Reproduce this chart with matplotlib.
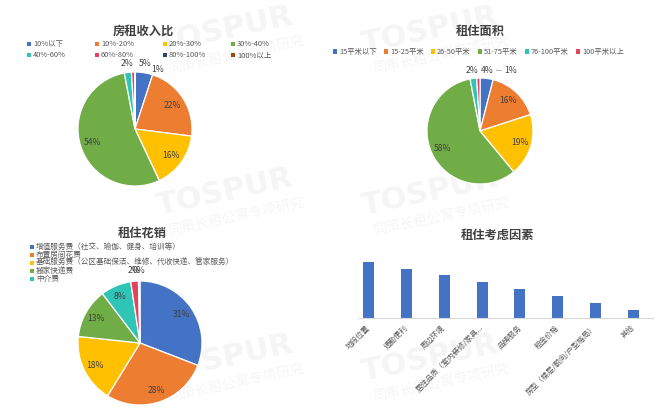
import matplotlib
matplotlib.use('Agg')
import matplotlib.pyplot as plt
import matplotlib.patches as mpatches
from matplotlib.patches import Rectangle
import numpy as np

plt.rcParams['font.family'] = ['Noto Sans CJK SC', 'DejaVu Sans']

# ---------------- data ----------------
ratio_labels = ['10%以下', '10%-20%', '20%-30%', '30%-40%',
                '40%-60%', '60%-80%', '80%-100%', '100%以上']
ratio_values = [5, 22, 16, 54, 2, 1, 0, 0]

area_labels = ['15平米以下', '15-25平米', '26-50平米', '51-75平米', '76-100平米', '100平米以上']
area_values = [4, 16, 19, 58, 2, 1]

spend_labels = ['增值服务费（社交、瑜伽、健身、培训等）', '布置房间花费',
                '基础服务费（公区基础保洁、维修、代收快递、管家服务）',
                '搬家快递费', '中介费', '其他', '其他费用']
spend_values = [31, 28, 18, 13, 8, 2, 0.4]
spend_legend_shown = 5

factor_labels = ['地段位置', '通勤便利', '周边环境', '居住品质（室内装修/家具...',
                 '品牌服务', '租金价格', '房型（楼层/朝向/户型格局）', '其他']
factor_values = [167, 147, 130, 109, 87, 65, 44, 23]

palette = ['#4472C4', '#ED7D31', '#FFC000', '#70AD47', '#2EC4B6', '#E8415F', '#264478', '#9E480E']
spend_colors = palette[:6] + ['#A5A5A5']

W, H = 660, 412
fig = plt.figure(figsize=(W / 100, H / 100), dpi=100)
fig.patch.set_facecolor('white')

TXT = '#595959'
LBL = '#404040'

# ---------------- watermarks (faint) ----------------
wm_x = [225, 430]
wm_y = [30, 192, 358]
for yy in wm_y:
    for xx in wm_x:
        fig.text(xx / W, 1 - yy / H, 'TOSPUR', fontsize=22, fontweight='bold',
                 family=['DejaVu Sans'], color='#f5f5f5', rotation=12,
                 ha='center', va='center', zorder=-5)
        fig.text((xx + 12) / W, 1 - (yy + 24) / H, '同策长租公寓专项研究', fontsize=10,
                 color='#f6f6f6', rotation=12, ha='center', va='center', zorder=-5)


def pie_axes(cx, cy, r, pad=1.15):
    ax = fig.add_axes([(cx - r * pad) / W, 1 - (cy + r * pad) / H, 2 * r * pad / W, 2 * r * pad / H])
    ax.set_xlim(-pad, pad)
    ax.set_ylim(-pad, pad)
    ax.set_aspect('equal')
    ax.axis('off')
    ax.patch.set_visible(False)
    return ax


def draw_pie(ax, values, colors, in_r=0.78, out_r=1.17, overrides=None):
    overrides = overrides or {}
    lim = ax.get_xlim()
    wedges, _ = ax.pie(values, colors=colors, startangle=90, counterclock=False,
                       radius=1, wedgeprops=dict(edgecolor='white', linewidth=0.9))
    ax.set_xlim(lim)
    ax.set_ylim(lim)
    for i, (w, v) in enumerate(zip(wedges, values)):
        if v <= 0:
            continue
        ang = (w.theta1 + w.theta2) / 2
        r = in_r if v > 5 else out_r
        if i in overrides:
            ang, r = overrides[i]
        x = r * np.cos(np.radians(ang))
        y = r * np.sin(np.radians(ang))
        ax.text(x, y, f'{v:.0f}%', fontsize=6.2, color=LBL, ha='center', va='center')
    return wedges


def title(x, y, s):
    fig.text(x / W, 1 - y / H, s, fontsize=8.8, fontweight='bold', color=LBL,
             ha='center', va='center')


def legend_item(x, y, color, text, fs=5.4):
    fig.patches.append(Rectangle((x / W, 1 - (y + 2) / H), 4 / W, 4 / H,
                                 transform=fig.transFigure, facecolor=color,
                                 edgecolor='none', figure=fig))
    fig.text((x + 6) / W, 1 - y / H, text, fontsize=fs, color=TXT, ha='left', va='center')


# ---------------- chart 1 ----------------
title(143, 31, '房租收入比')
for i, lab in enumerate(ratio_labels):
    legend_item(27 + 68 * (i % 4), 44 + 11 * (i // 4), palette[i], lab)
ax1 = pie_axes(135, 129, 57)
draw_pie(ax1, ratio_values, palette, in_r=0.78, out_r=1.16, overrides={5: (69.5, 1.11)})

# ---------------- chart 2 ----------------
title(480, 32, '租住面积')
handles = [mpatches.Patch(facecolor=palette[i], edgecolor='none', label=l)
           for i, l in enumerate(area_labels)]
fig.legend(handles=handles, loc='center', bbox_to_anchor=(478.5 / W, 1 - 52 / H), ncol=6,
           fontsize=5.3, frameon=False, handlelength=0.55, handleheight=0.55,
           handletextpad=0.3, columnspacing=0.95, borderpad=0, labelcolor=TXT)
ax2 = pie_axes(480, 131, 53)
draw_pie(ax2, area_values, palette[:6], in_r=0.78, out_r=1.16, overrides={5: (63.6, 1.28)})
# short leader line for the 1% label
ax2.plot([0.30, 0.40], [1.15, 1.15], color='#a6a6a6', linewidth=0.6)

# ---------------- chart 3 ----------------
title(142.5, 233, '租住花销')
for i in range(spend_legend_shown):
    legend_item(30, 247 + 8.1 * i, spend_colors[i], spend_labels[i], fs=5.5)
ax3 = pie_axes(140, 343, 62)
draw_pie(ax3, spend_values, spend_colors, in_r=0.81, out_r=1.17)

# ---------------- chart 4 ----------------
title(497.5, 235, '租住考虑因素')
axb = fig.add_axes([359 / W, 1 - 318 / H, (652.5 - 359) / W, 68 / H])
axb.patch.set_visible(False)
xs = np.arange(len(factor_values))
axb.bar(xs, factor_values, width=0.29, color='#4472C4')
axb.set_xlim(-0.25, 7.5)
axb.set_ylim(0, 204)
for s in ['top', 'right', 'left']:
    axb.spines[s].set_visible(False)
axb.spines['bottom'].set_color('#d9d9d9')
axb.spines['bottom'].set_linewidth(0.8)
axb.set_yticks([])
axb.set_xticks(xs)
axb.set_xticklabels(factor_labels, rotation=45, ha='right', va='center',
                    rotation_mode='anchor', fontsize=5.4, color=TXT)
axb.tick_params(axis='x', length=0, pad=6)

fig.savefig('out.png', dpi=100, facecolor='white')
